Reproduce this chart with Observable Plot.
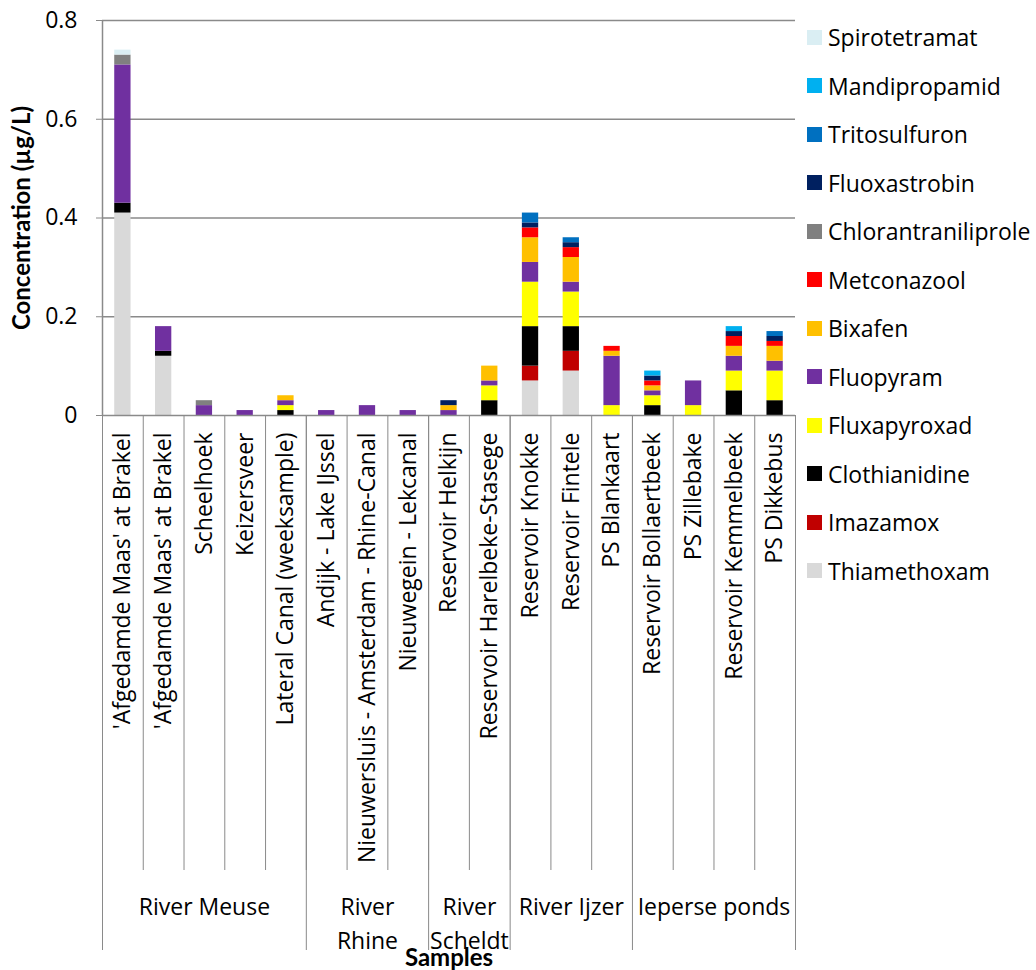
<!DOCTYPE html>
<html>
<head>
<meta charset="utf-8">
<script src="https://cdn.jsdelivr.net/npm/d3@7"></script>
<script src="https://cdn.jsdelivr.net/npm/@observablehq/plot@0.6"></script>
<style>
  body { margin: 0; background: white; }
  #wrap { position: relative; width: 1036px; height: 970px; font-family: "Open Sans", sans-serif; }
  #legend { position: absolute; left: 807px; top: 13px; }
  .item { display: flex; align-items: center; height: 48.5px; font-size: 23px; color: #000; white-space: nowrap; }
  .sw { width: 15px; height: 15px; margin-right: 6px; flex: none; }
</style>
</head>
<body>
<div id="wrap"><div id="legend"></div></div>
<script>
// Sample labels (x categories), in order
const sampleLabels = [
  "'Afgedamde Maas' at Brakel", "'Afgedamde Maas' at Brakel", "Scheelhoek", "Keizersveer",
  "Lateral Canal (weeksample)", "Andijk - Lake IJssel", "Nieuwersluis - Amsterdam - Rhine-Canal",
  "Nieuwegein - Lekcanal", "Reservoir Helkijn", "Reservoir Harelbeke-Stasege",
  "Reservoir Knokke", "Reservoir Fintele", "PS Blankaart", "Reservoir Bollaertbeek",
  "PS Zillebake", "Reservoir Kemmelbeek", "PS Dikkebus"
];
// Group labels and how many samples each covers
const groupNames = ["River Meuse", "River\nRhine", "River\nScheldt", "River Ijzer", "Ieperse ponds"];
const groupSizes = [5, 3, 2, 3, 4];

// Compounds, bottom of stack first
const compounds = ["Thiamethoxam", "Imazamox", "Clothianidine", "Fluxapyroxad", "Fluopyram", "Bixafen",
  "Metconazool", "Chlorantraniliprole", "Fluoxastrobin", "Tritosulfuron", "Mandipropamid", "Spirotetramat"];
const compoundColors = ["#d9d9d9", "#c00000", "#000000", "#ffff00", "#7030a0", "#ffc000",
  "#ff0000", "#808080", "#002060", "#0070c0", "#00b0f0", "#daeef3"];

// Concentrations (µg/L) per compound, one value per sample
const thiamethoxam        = [0.41, 0.12, 0, 0, 0, 0, 0, 0, 0, 0, 0.07, 0.09, 0, 0, 0, 0, 0];
const imazamox            = [0, 0, 0, 0, 0, 0, 0, 0, 0, 0, 0.03, 0.04, 0, 0, 0, 0, 0];
const clothianidine       = [0.02, 0.01, 0, 0, 0.01, 0, 0, 0, 0, 0.03, 0.08, 0.05, 0, 0.02, 0, 0.05, 0.03];
const fluxapyroxad        = [0, 0, 0, 0, 0.01, 0, 0, 0, 0, 0.03, 0.09, 0.07, 0.02, 0.02, 0.02, 0.04, 0.06];
const fluopyram           = [0.28, 0.05, 0.02, 0.01, 0.01, 0.01, 0.02, 0.01, 0.01, 0.01, 0.04, 0.02, 0.10, 0.01, 0.05, 0.03, 0.02];
const bixafen             = [0, 0, 0, 0, 0.01, 0, 0, 0, 0.01, 0.03, 0.05, 0.05, 0.01, 0.01, 0, 0.02, 0.03];
const metconazool         = [0, 0, 0, 0, 0, 0, 0, 0, 0, 0, 0.02, 0.02, 0.01, 0.01, 0, 0.02, 0.01];
const chlorantraniliprole = [0.02, 0, 0.01, 0, 0, 0, 0, 0, 0, 0, 0, 0, 0, 0, 0, 0, 0];
const fluoxastrobin       = [0, 0, 0, 0, 0, 0, 0, 0, 0.01, 0, 0.01, 0.01, 0, 0.01, 0, 0.01, 0.01];
const tritosulfuron       = [0, 0, 0, 0, 0, 0, 0, 0, 0, 0, 0.02, 0.01, 0, 0, 0, 0, 0.01];
const mandipropamid       = [0, 0, 0, 0, 0, 0, 0, 0, 0, 0, 0, 0, 0, 0.01, 0, 0.01, 0];
const spirotetramat       = [0.01, 0, 0, 0, 0, 0, 0, 0, 0, 0, 0, 0, 0, 0, 0, 0, 0];

const yTicks = [0, 0.2, 0.4, 0.6, 0.8];

const series = [thiamethoxam, imazamox, clothianidine, fluxapyroxad, fluopyram, bixafen,
  metconazool, chlorantraniliprole, fluoxastrobin, tritosulfuron, mandipropamid, spirotetramat];
const rows = [];
series.forEach((vals, c) => vals.forEach((v, i) => { if (v > 0) rows.push({sample: i, compound: compounds[c], value: v}); }));

const W = 1036, H = 970, ML = 102, MR = 241, MT = 20, MB = 555;
const n = sampleLabels.length;
const band = (W - ML - MR) / n;
const idx = d3.range(n);
const grey = "#8a8a8a";

const groupStarts = [];
{ let s = 0; groupSizes.forEach(g => { groupStarts.push(s); s += g; }); }

const groupMarks = groupNames.map((name, g) => Plot.text([name], {
  x: () => groupStarts[g],
  text: d => d,
  frameAnchor: "bottom",
  dx: (groupSizes[g] * band) / 2 - band / 2,
  dy: 475,
  lineAnchor: "top",
  textAnchor: "middle",
  lineHeight: 1.48,
  fontSize: 23
}));

const chart = Plot.plot({
  width: W, height: H,
  marginLeft: ML, marginRight: MR, marginTop: MT, marginBottom: MB,
  x: {domain: idx, paddingInner: 0.6, paddingOuter: 0.3, round: false, axis: null},
  y: {domain: [0, 0.8], axis: null},
  color: {domain: compounds, range: compoundColors},
  style: {fontFamily: "'Open Sans', sans-serif", fontSize: "23px", background: "white", color: "#000", overflow: "visible"},
  marks: [
    Plot.gridY(yTicks.filter(d => d > 0), {stroke: grey, strokeOpacity: 1, strokeWidth: 1.5}),
    Plot.barY(rows, {x: "sample", y: "value", fill: "compound", order: compounds}),
    Plot.ruleY([0], {stroke: grey, strokeWidth: 1.5}),
    Plot.ruleX([0], {dx: -band / 2, stroke: grey, strokeWidth: 1.5}),
    Plot.axisY({ticks: yTicks, tickFormat: d => d === 0 ? "0" : d.toFixed(1), tickSize: 6, tickPadding: 19, stroke: grey, label: null, fontSize: 23}),
    // category separators
    Plot.axisX({ticks: idx, tickSize: 455, dx: -band / 2, tickFormat: () => "", stroke: grey, label: null}),
    // group separators
    Plot.axisX({ticks: groupStarts, tickSize: 535, dx: -band / 2, tickFormat: () => "", stroke: grey, label: null}),
    Plot.axisX({ticks: [n - 1], tickSize: 535, dx: band / 2, tickFormat: () => "", stroke: grey, label: null}),
    // sample labels
    Plot.text(sampleLabels, {x: (d, i) => i, text: d => d, frameAnchor: "bottom", dy: 17, rotate: -90, textAnchor: "end", lineAnchor: "middle", fontSize: 23}),
    ...groupMarks,
    Plot.text(["Concentration (µg/L)"], {frameAnchor: "left", dx: -80, rotate: -90, textAnchor: "middle", lineAnchor: "middle", fontWeight: "bold", fontFamily: "Lato", fontSize: 24}),
    Plot.text(["Samples"], {frameAnchor: "bottom", dy: 543, textAnchor: "middle", lineAnchor: "middle", fontWeight: "bold", fontFamily: "Lato", fontSize: 24})
  ]
});

const wrap = document.getElementById("wrap");
wrap.insertBefore(chart, wrap.firstChild);

const legend = document.getElementById("legend");
compounds.slice().reverse().forEach((c) => {
  const color = compoundColors[compounds.indexOf(c)];
  const item = document.createElement("div");
  item.className = "item";
  item.innerHTML = `<span class="sw" style="background:${color}"></span><span>${c}</span>`;
  legend.appendChild(item);
});
</script>
</body>
</html>
